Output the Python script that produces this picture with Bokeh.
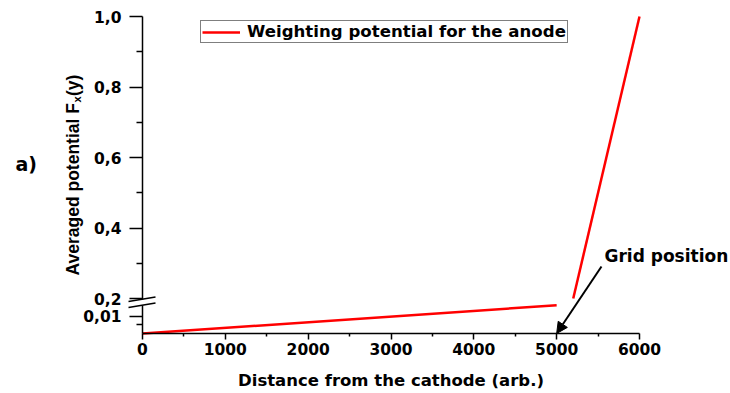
import math

from bokeh.plotting import figure
from bokeh.models import (Range1d, LinearAxis, FixedTicker, CustomJSTickFormatter,
                          Legend, LegendItem, Label, Arrow, NormalHead)
from bokeh.embed import file_html
from bokeh.resources import INLINE

# Weighting potential below the grid (cathode side) and above it (anode side)
x_cathode_side = [0, 5000]
f_cathode_side = [0.0, 0.0166]
x_anode_side = [5200, 6000]
f_anode_side = [0.2, 1.0]

grid_position = 5000
x_ticks = [0, 1000, 2000, 3000, 4000, 5000, 6000]
x_minor = [500, 1500, 2500, 3500, 4500, 5500]
upper_ticks = [0.2, 0.4, 0.6, 0.8, 1.0]
upper_minor = [0.3, 0.5, 0.7, 0.9]
lower_ticks = [0.01]
lower_minor = [0.005]

FONT = "DejaVu Sans"
RED = "#ff0000"

# The plotting area spans the whole canvas; all axes are pinned at data
# positions so the broken axis, its break marks and the texts share one area.
p = figure(width=730, height=393, output_backend="svg", toolbar_location=None,
           x_range=Range1d(-1714.3, 7098.6), y_range=Range1d(-0.0695, 1.0454),
           x_axis_location=None, y_axis_location=None,
           min_border_left=0, min_border_right=0,
           min_border_top=0, min_border_bottom=0,
           outline_line_color=None, background_fill_color="white")
p.grid.visible = False
p.extra_y_ranges = {"low": Range1d(-0.0353, 0.1959)}

comma = CustomJSTickFormatter(code="""
    const s = tick < 0.1 ? tick.toFixed(2) : tick.toFixed(1);
    return s.replace('.', ',');
""")

def style_axis(ax, tick_out, minor_out, standoff):
    ax.axis_line_color = "black"
    ax.axis_line_width = 1.5
    ax.major_tick_line_width = 1.5
    ax.minor_tick_line_width = 1.5
    ax.major_tick_in = 0
    ax.minor_tick_in = 0
    ax.major_tick_out = tick_out
    ax.minor_tick_out = minor_out
    ax.major_label_standoff = standoff
    ax.major_label_text_font = FONT
    ax.major_label_text_font_style = "bold"
    ax.major_label_text_font_size = "15.5px"
    ax.major_label_text_color = "black"

# x axis along F = 0 of the lower segment
xa = LinearAxis(fixed_location=0, y_range_name="low",
                ticker=FixedTicker(ticks=x_ticks, minor_ticks=x_minor),
                bounds=(0, 6000))
style_axis(xa, 6, 3, 4)
p.add_layout(xa, "below")

p.add_layout(Label(x=390.5, y=380, x_units="canvas", y_units="canvas",
                   text="Distance from the cathode (arb.)",
                   text_font=FONT, text_font_style="bold",
                   text_font_size="16.5px", text_color="black",
                   text_align="center", text_baseline="alphabetic"))

# upper part of the broken y axis
ya = LinearAxis(fixed_location=0,
                ticker=FixedTicker(ticks=upper_ticks, minor_ticks=upper_minor),
                formatter=comma, bounds=(0.197, 1.0))
style_axis(ya, 13, 6, 8)
p.add_layout(ya, "left")

# lower part of the broken y axis, drawn on the same vertical line
yl = LinearAxis(y_range_name="low", fixed_location=0,
                ticker=FixedTicker(ticks=lower_ticks, minor_ticks=lower_minor),
                formatter=comma, bounds=(0, 0.0165))
style_axis(yl, 13, 6, 8)
p.add_layout(yl, "left")

r_low = p.line(x_cathode_side, f_cathode_side, y_range_name="low",
               line_color=RED, line_width=2.5)
p.line(x_anode_side, f_anode_side, line_color=RED, line_width=2.5)

legend = Legend(items=[LegendItem(label="Weighting potential for the anode",
                                  renderers=[r_low])],
                location=(200, 350), padding=1, margin=0,
                glyph_width=38, glyph_height=14, label_standoff=7,
                label_text_font=FONT, label_text_font_style="bold",
                label_text_font_size="16.6px", label_text_color="black",
                border_line_color="black", border_line_width=1.2,
                background_fill_alpha=1.0)
p.add_layout(legend)

# axis break marks
for y0, y1 in [(301, 296.5), (307, 302.5)]:
    p.add_layout(Arrow(x_start=128, y_start=y0, x_end=155, y_end=y1,
                       start_units="canvas", end_units="canvas",
                       start=None, end=None, line_color="black", line_width=1.5))

# y axis title with subscript
title_font = "Liberation Sans"
p.add_layout(Label(x=72, y=275, x_units="canvas", y_units="canvas",
                   text="Averaged potential F", angle=math.pi / 2,
                   text_font=title_font, text_font_style="bold",
                   text_font_size="17.5px", text_color="black",
                   text_align="left", text_baseline="alphabetic"))
p.add_layout(Label(x=76, y=102, x_units="canvas", y_units="canvas",
                   text="x", angle=math.pi / 2,
                   text_font=title_font, text_font_style="bold",
                   text_font_size="11px", text_color="black",
                   text_align="left", text_baseline="alphabetic"))
p.add_layout(Label(x=72, y=95.5, x_units="canvas", y_units="canvas",
                   text="(y)", angle=math.pi / 2,
                   text_font=title_font, text_font_style="bold",
                   text_font_size="17.5px", text_color="black",
                   text_align="left", text_baseline="alphabetic"))

# panel tag
p.add_layout(Label(x=15, y=163, x_units="canvas", y_units="canvas", text="a)",
                   text_font=FONT, text_font_style="bold", text_font_size="19px",
                   text_color="black", text_baseline="alphabetic"))

# grid position annotation
p.add_layout(Arrow(x_start=5541, y_start=0.0394, x_end=grid_position, y_end=0,
                   y_range_name="low", line_color="black", line_width=2,
                   end=NormalHead(size=11, fill_color="black", line_color="black",
                                  line_width=1)))
p.add_layout(Label(x=604, y=255, x_units="canvas", y_units="canvas",
                   text="Grid position", text_font=FONT, text_font_style="bold",
                   text_font_size="17px", text_color="black",
                   text_baseline="alphabetic"))

open("out.html", "w").write(file_html(p, INLINE))
